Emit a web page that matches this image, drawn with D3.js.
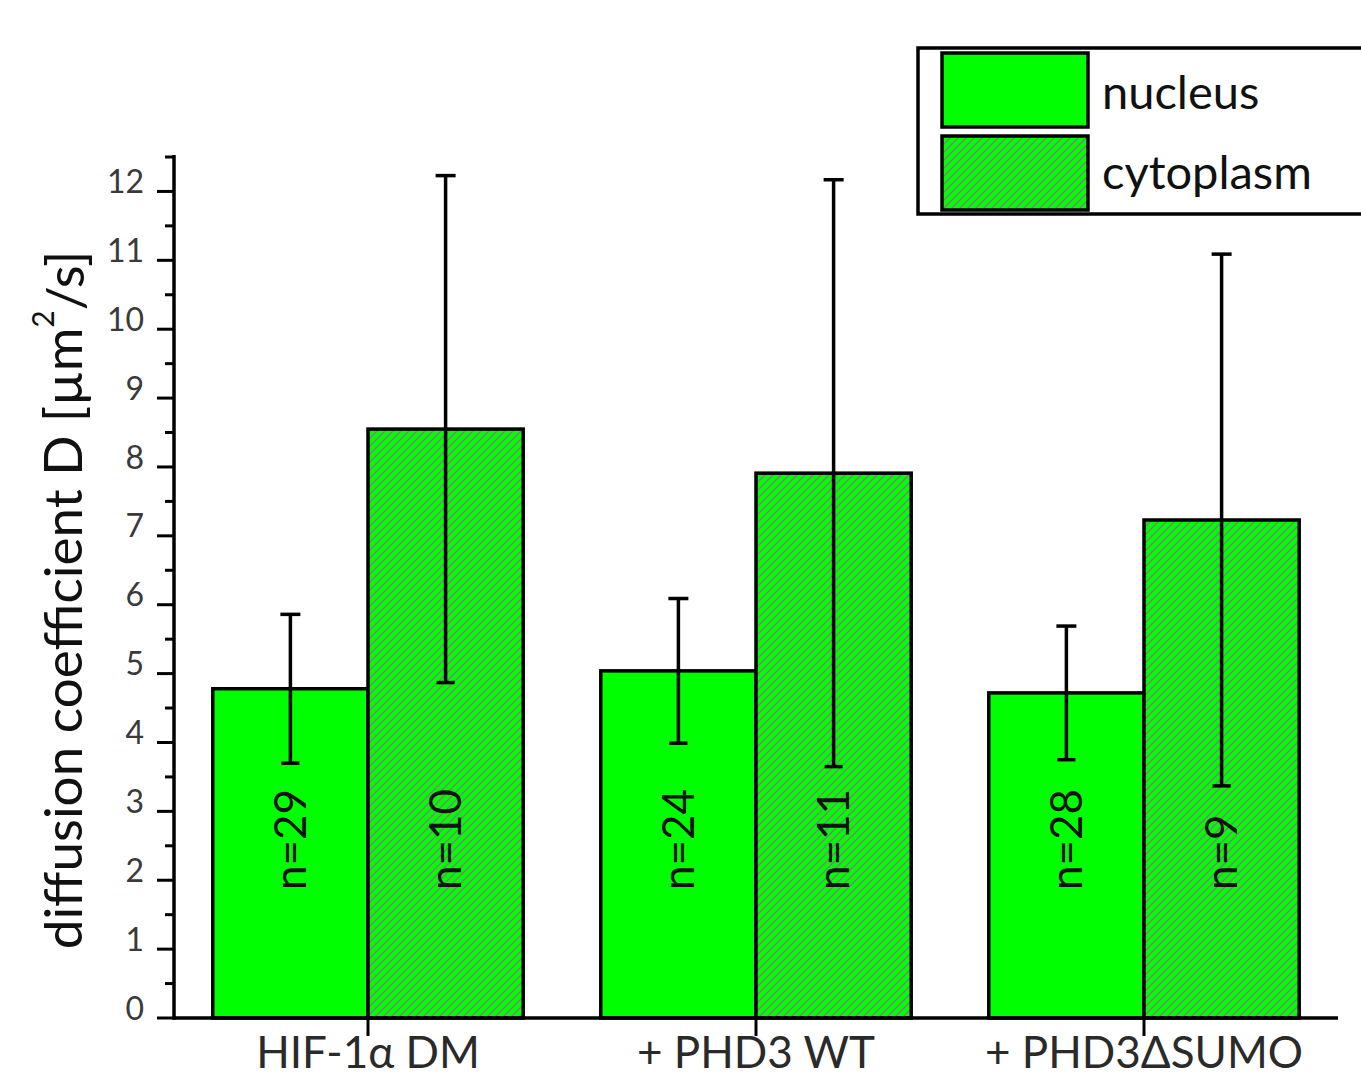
<!DOCTYPE html>
<html>
<head>
<meta charset="utf-8">
<script src="https://cdn.jsdelivr.net/npm/d3@7"></script>
<style>
  html, body { margin: 0; padding: 0; background: #fff; }
  svg { display: block; }
  text { font-family: Lato, "Open Sans", sans-serif; }
</style>
</head>
<body>
<svg id="chart" width="1361" height="1079"></svg>
<script>
// Diffusion coefficients (µm²/s), mean ± SD, per construct and compartment
const categories = ["HIF-1α DM", "+ PHD3 WT", "+ PHD3ΔSUMO"];
const compartments = ["nucleus", "cytoplasm"];
const nucleusMean = [4.78, 5.04, 4.72];
const nucleusErr = [1.08, 1.05, 0.97];
const cytoplasmMean = [8.55, 7.91, 7.23];
const cytoplasmErr = [3.68, 4.26, 3.86];
const nucleusN = [29, 24, 28];
const cytoplasmN = [10, 11, 9];
const yTicks = [0, 1, 2, 3, 4, 5, 6, 7, 8, 9, 10, 11, 12];

const rows = [];
categories.forEach((c, i) => {
  rows.push({ cat: c, comp: "nucleus", mean: nucleusMean[i], err: nucleusErr[i], n: nucleusN[i] });
  rows.push({ cat: c, comp: "cytoplasm", mean: cytoplasmMean[i], err: cytoplasmErr[i], n: cytoplasmN[i] });
});

const svg = d3.select("#chart");
const plotLeft = 174, plotRight = 1338, plotTop = 157, plotBottom = 1018;

const x0 = d3.scaleBand().domain(categories).range([plotLeft, plotRight]).paddingInner(0.2).paddingOuter(0.1);
const x1 = d3.scaleBand().domain(compartments).range([0, x0.bandwidth()]);
const y = d3.scaleLinear().domain([0, 12.5]).range([plotBottom, plotTop]);

// hatch pattern for the cytoplasm bars: grey diagonals on green
const defs = svg.append("defs");
const pat = defs.append("pattern").attr("id", "hatch").attr("patternUnits", "userSpaceOnUse")
  .attr("width", 8).attr("height", 8);
pat.append("rect").attr("width", 8).attr("height", 8).attr("fill", "#00ff00");
pat.append("path").attr("d", "M-2,2 L2,-2 M0,8 L8,0 M6,10 L10,6")
  .attr("stroke", "#7f7f7f").attr("stroke-width", 1.4);

const fillFor = comp => comp === "nucleus" ? "#00ff00" : "url(#hatch)";

// bars
const g = svg.append("g");
g.selectAll("rect.bar").data(rows).join("rect")
  .attr("class", "bar")
  .attr("x", d => x0(d.cat) + x1(d.comp))
  .attr("y", d => y(d.mean))
  .attr("width", x1.bandwidth())
  .attr("height", d => y(0) - y(d.mean))
  .attr("fill", d => fillFor(d.comp))
  .attr("stroke", "#000").attr("stroke-width", 3.5);

// error bars
const cx = d => x0(d.cat) + x1(d.comp) + x1.bandwidth() / 2;
const eb = g.selectAll("g.err").data(rows).join("g").attr("class", "err")
  .attr("stroke", "#000").attr("stroke-width", 3.5);
eb.append("line").attr("x1", cx).attr("x2", cx)
  .attr("y1", d => y(d.mean + d.err)).attr("y2", d => y(d.mean - d.err));
eb.append("line").attr("x1", d => cx(d) - 10).attr("x2", d => cx(d) + 10)
  .attr("y1", d => y(d.mean + d.err)).attr("y2", d => y(d.mean + d.err));
eb.append("line").attr("x1", d => cx(d) - 9).attr("x2", d => cx(d) + 9)
  .attr("y1", d => y(d.mean - d.err)).attr("y2", d => y(d.mean - d.err));

// sample size labels inside bars
g.selectAll("text.n").data(rows).join("text")
  .attr("class", "n")
  .attr("transform", d => `translate(${cx(d)},${y(0) - 128}) rotate(-90)`)
  .attr("dy", "0.36em")
  .attr("font-size", 44)
  .attr("fill", "#111")
  .text(d => "n=" + d.n);

// y axis
const yAxis = svg.append("g").attr("transform", `translate(${plotLeft},0)`);
yAxis.append("line").attr("x1", 0).attr("x2", 0).attr("y1", y(12.5) - 2).attr("y2", plotBottom + 1.5)
  .attr("stroke", "#000").attr("stroke-width", 3.5);
const minor = d3.range(0.5, 12.6, 1);
yAxis.selectAll("line.minor").data(minor).join("line").attr("class", "minor")
  .attr("x1", -9).attr("x2", 0).attr("y1", d => y(d)).attr("y2", d => y(d))
  .attr("stroke", "#000").attr("stroke-width", 3);
yAxis.selectAll("line.major").data(yTicks).join("line").attr("class", "major")
  .attr("x1", -17).attr("x2", 0).attr("y1", d => y(d)).attr("y2", d => y(d))
  .attr("stroke", "#000").attr("stroke-width", 3);
yAxis.selectAll("text.tick").data(yTicks).join("text").attr("class", "tick")
  .attr("x", -30).attr("y", d => y(d)).attr("dy", "0.05em")
  .attr("text-anchor", "end").attr("font-size", 32).attr("fill", "#3a3a3a")
  .text(d => d);

// x axis
const xAxis = svg.append("g");
xAxis.append("line").attr("x1", plotLeft - 1.5).attr("x2", plotRight).attr("y1", plotBottom).attr("y2", plotBottom)
  .attr("stroke", "#000").attr("stroke-width", 3.5);
xAxis.selectAll("line.xt").data(categories).join("line").attr("class", "xt")
  .attr("x1", d => x0(d) + x0.bandwidth() / 2).attr("x2", d => x0(d) + x0.bandwidth() / 2)
  .attr("y1", plotBottom).attr("y2", plotBottom + 18)
  .attr("stroke", "#000").attr("stroke-width", 3);
xAxis.selectAll("text.xl").data(categories).join("text").attr("class", "xl")
  .attr("x", d => x0(d) + x0.bandwidth() / 2).attr("y", 1068)
  .attr("text-anchor", "middle").attr("font-size", 44).attr("fill", "#2a2a2a")
  .text(d => d);

// y axis title
const yt = svg.append("text")
  .attr("transform", "translate(82,600) rotate(-90)")
  .attr("text-anchor", "middle").attr("font-size", 53).attr("fill", "#111");
yt.append("tspan").text("diffusion coefficient D [µm");
yt.append("tspan").attr("font-size", 30).attr("dy", "-0.95em").text("2");
yt.append("tspan").attr("dy", "0.57em").text("/s]");

// legend
const lg = svg.append("g");
lg.append("rect").attr("x", 918).attr("y", 48).attr("width", 460).attr("height", 166)
  .attr("fill", "#fff").attr("stroke", "#000").attr("stroke-width", 3.5);
compartments.forEach((c, i) => {
  lg.append("rect").attr("x", 942).attr("y", 53 + i * 83).attr("width", 146).attr("height", 74)
    .attr("fill", fillFor(c)).attr("stroke", "#000").attr("stroke-width", 3.5);
  lg.append("text").attr("x", 1102).attr("y", 109 + i * 80)
    .attr("font-size", 47).attr("fill", "#111").text(c);
});
</script>
</body>
</html>
